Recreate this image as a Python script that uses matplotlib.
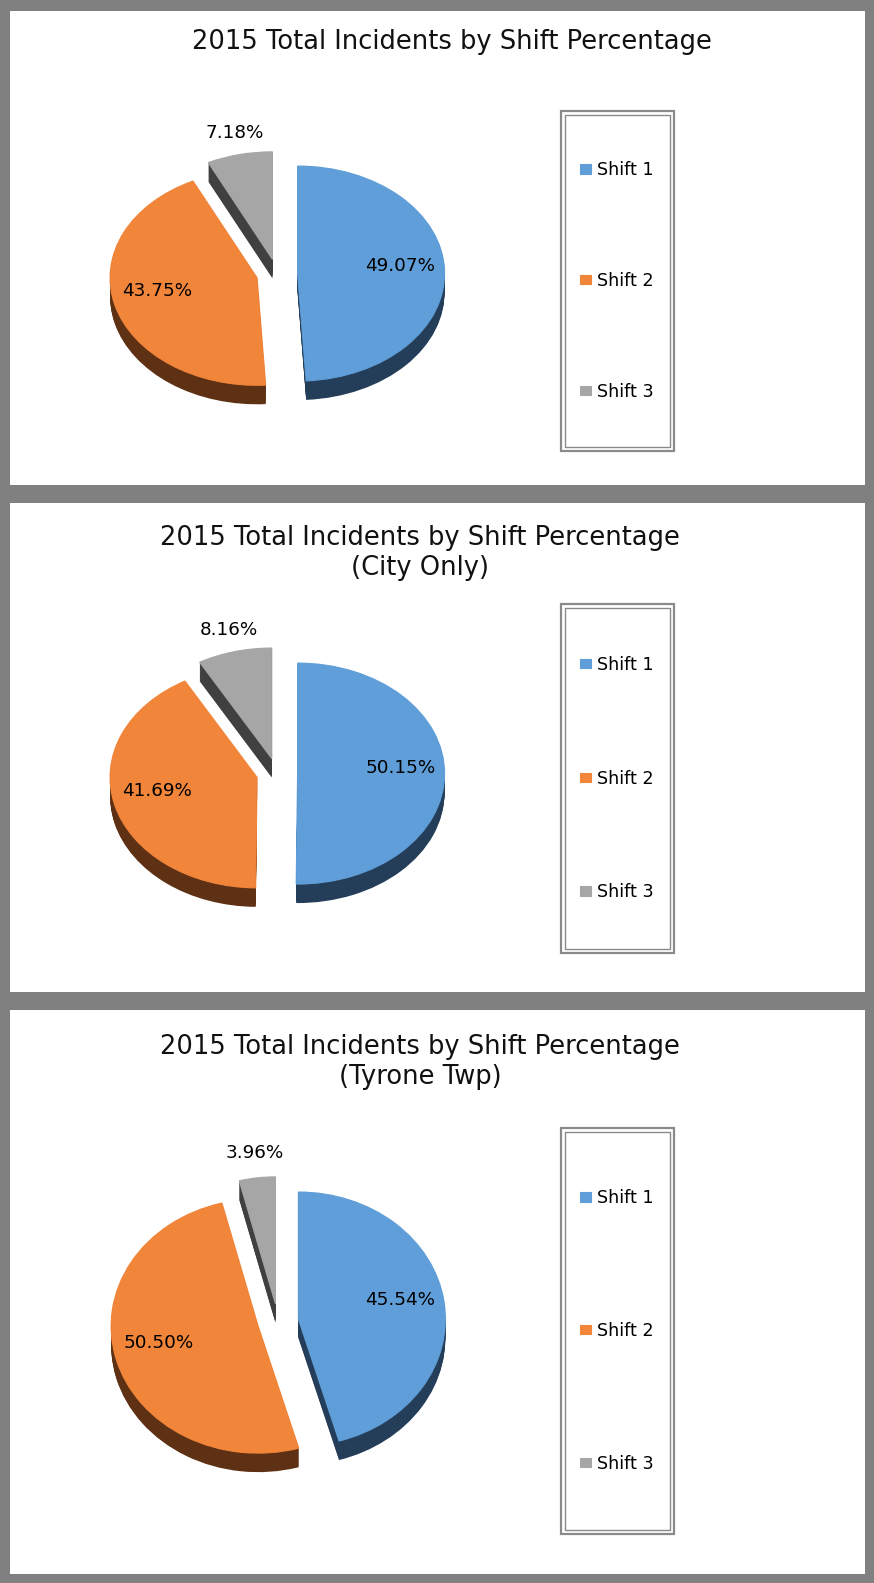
import matplotlib
matplotlib.use("Agg")
from matplotlib import pyplot as plt
from matplotlib.patches import Rectangle
import math

# data
shift_labels = ["Shift 1", "Shift 2", "Shift 3"]
total_pct = [49.07, 43.75, 7.18]
city_pct = [50.15, 41.69, 8.16]
tyrone_pct = [45.54, 50.50, 3.96]
titles = [
    "2015 Total Incidents by Shift Percentage",
    "2015 Total Incidents by Shift Percentage\n(City Only)",
    "2015 Total Incidents by Shift Percentage\n(Tyrone Twp)",
]

top_colors = ["#5f9ed8", "#f1853a", "#a6a6a6"]
side_colors = ["#243e59", "#5f3114", "#404040"]

W, H = 874, 1583
fig = plt.figure(figsize=(W / 100, H / 100), dpi=100)
fig.patch.set_facecolor("#808080")


def px_rect(x0, y0, x1, y1):
    # pixel box (top-left origin) -> figure fraction [left, bottom, width, height]
    return [x0 / W, 1 - y1 / H, (x1 - x0) / W, (y1 - y0) / H]


# layout of each panel, in pixels of the output image
layout = [
    dict(top=11, bottom=485, title_x=452, title_y=42, cx=277, cy=274, ry=107.5, leg=(111, 451)),
    dict(top=503, bottom=992, title_x=420, title_y=553, cx=277, cy=773.5, ry=110.5, leg=(604, 953)),
    dict(top=1010, bottom=1574, title_x=420, title_y=1062, cx=278, cy=1321.5, ry=127, leg=(1128, 1534)),
]
panel_values = [total_pct, city_pct, tyrone_pct]

RX = 147       # horizontal radius, px
DEPTH = 19     # pie thickness, px
EXPLODE = 0.14
LABEL_FS = 13.2
LEGEND_FS = 12.6

for values, title, lay in zip(panel_values, titles, layout):
    # white panel
    l, b, w, h = px_rect(10, lay["top"], 865, lay["bottom"])
    fig.add_artist(Rectangle((l, b), w, h, transform=fig.transFigure,
                             facecolor="white", edgecolor="none", zorder=0))

    fig.text(lay["title_x"] / W, 1 - lay["title_y"] / H, title, ha="center", va="center",
             fontsize=18.5, family="DejaVu Sans", linespacing=1.22, color="#111111")

    # pie axes, stretched so the pie becomes a tilted ellipse
    hw, hh = 230, 175
    ax = fig.add_axes(px_rect(lay["cx"] - hw, lay["cy"] - hh, lay["cx"] + hw, lay["cy"] + hh))
    explode = [EXPLODE] * len(values)
    depth = DEPTH / lay["ry"]
    steps = DEPTH
    # side of the pie: stacked darker copies
    for k in range(steps, 0, -1):
        ax.pie(values, colors=side_colors, startangle=90, counterclock=False,
               explode=explode, center=(0, -depth * k / steps),
               wedgeprops=dict(linewidth=0))
    wedges, _ = ax.pie(values, colors=top_colors, startangle=90, counterclock=False,
                       explode=explode, wedgeprops=dict(linewidth=0.8))
    for wd in wedges:
        wd.set_edgecolor(wd.get_facecolor())
    ax.set_aspect("auto")
    ax.set_xlim(-hw / RX, hw / RX)
    ax.set_ylim(-hh / lay["ry"], hh / lay["ry"])
    ax.axis("off")

    # percentage labels
    total = sum(values)
    cum = 0.0
    for v in values:
        frac = v / total
        t1 = 90 - 360 * cum
        t2 = 90 - 360 * (cum + frac)
        cum += frac
        mid = math.radians((t1 + t2) / 2)
        r = 0.70 if frac > 0.1 else 1.15
        x = (EXPLODE + r) * math.cos(mid)
        y = (EXPLODE + r) * math.sin(mid) + 0.05
        ax.text(x, y, f"{v:.2f}%", ha="center", va="center",
                fontsize=LABEL_FS, family="DejaVu Sans", color="black")

    # legend box with double border
    y0, y1 = lay["leg"]
    l, b, w, h = px_rect(561, y0, 674, y1)
    fig.add_artist(Rectangle((l, b), w, h, transform=fig.transFigure,
                             facecolor="white", edgecolor="#8a8a8a", linewidth=1.6, zorder=1))
    l, b, w, h = px_rect(565, y0 + 4, 670, y1 - 4)
    fig.add_artist(Rectangle((l, b), w, h, transform=fig.transFigure,
                             facecolor="none", edgecolor="#8a8a8a", linewidth=1.0, zorder=1))

    fs_px = LEGEND_FS * 100 / 72
    pitch = (y1 - y0) / 3
    spacing = (pitch - 1.17 * fs_px) / fs_px
    leg = fig.legend(wedges, shift_labels, loc="center left",
                     bbox_to_anchor=(580 / W, 1 - (y0 + y1) / 2 / H),
                     frameon=False, fontsize=LEGEND_FS, labelspacing=spacing,
                     handlelength=0.65, handleheight=0.45, handletextpad=0.32,
                     borderpad=0, borderaxespad=0)
    leg.set_zorder(3)

fig.savefig("out.png", dpi=100, facecolor=fig.get_facecolor())
